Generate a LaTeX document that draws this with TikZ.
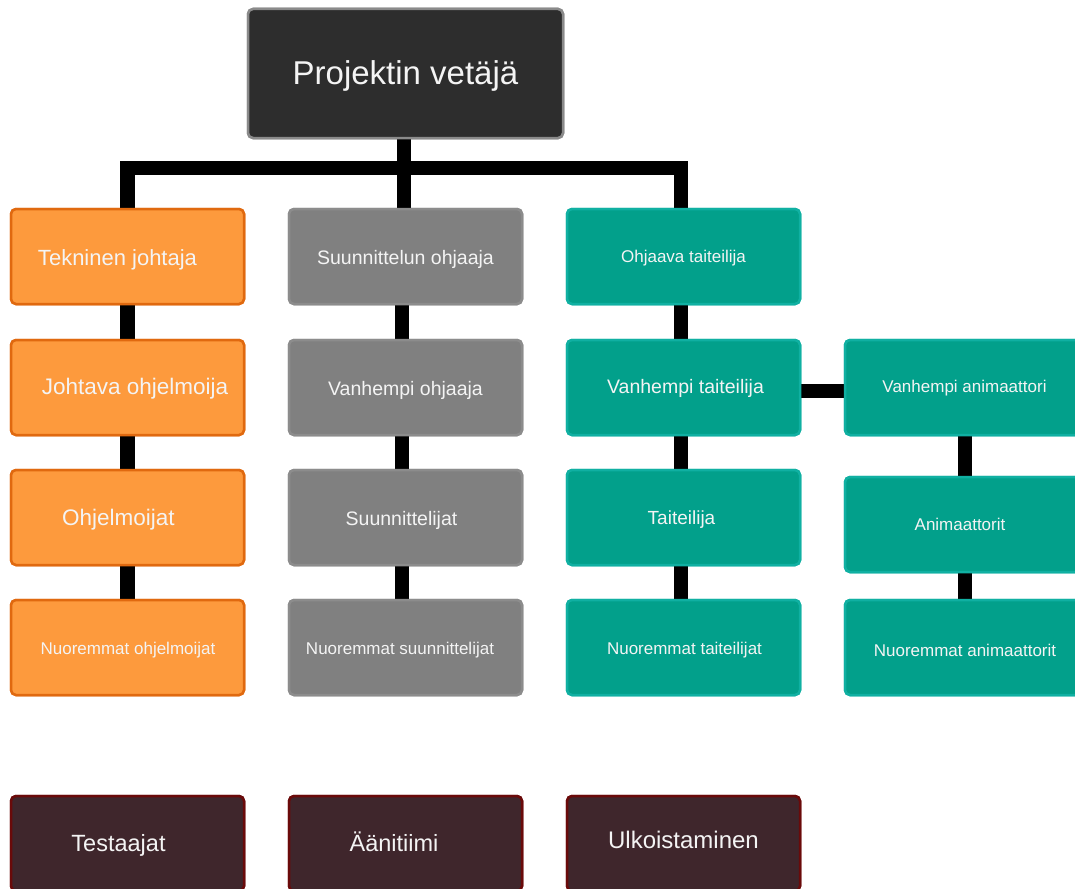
\documentclass[tikz,border=0pt]{standalone}
\usepackage{fontspec}
\setmainfont{Liberation Sans}
\definecolor{orgF}{HTML}{FD9A3D}
\definecolor{orgD}{HTML}{E0690F}
\definecolor{gryF}{HTML}{808080}
\definecolor{gryD}{HTML}{8C8C8C}
\definecolor{tlF}{HTML}{02A08B}
\definecolor{tlD}{HTML}{10B0A2}
\definecolor{dkF}{HTML}{2D2D2D}
\definecolor{dkD}{HTML}{8A8A8A}
\definecolor{mrF}{HTML}{3F262C}
\definecolor{mrD}{HTML}{6A0A0A}
\definecolor{txtc}{HTML}{F4F4F4}
\newcommand{\fs}[1]{\fontsize{#1}{#1}\selectfont}
\tikzset{
  box/.style={draw, line width=2.5pt, rounded corners=5pt, inner sep=0pt, minimum width=233pt, minimum height=95pt},
  orgbox/.style={box, fill=orgF, draw=orgD},
  grybox/.style={box, fill=gryF, draw=gryD},
  tlbox/.style={box, fill=tlF, draw=tlD},
  mrbox/.style={box, fill=mrF, draw=mrD},
  topbox/.style={box, fill=dkF, draw=dkD, minimum width=315pt, minimum height=129pt},
  txt/.style={text=txtc, inner sep=0pt, anchor=base},
  conn/.style={draw=black, line width=14.5pt, line cap=butt, line join=miter}
}
\begin{document}
\begin{tikzpicture}[x=1pt, y=-1pt]
\useasboundingbox (0,0) rectangle (1075,888);
\clip (0,0) rectangle (1075,888);
\coordinate (bus) at (404,168);
% box positions (named)
\path
  (405.5,73.5) node[topbox] (pv) {}
  (127.5,256.5) node[orgbox] (tj) {}
  (127.5,387.5) node[orgbox] (jo) {}
  (127.5,517.5) node[orgbox] (oj) {}
  (127.5,647.5) node[orgbox] (no) {}
  (405.5,256.5) node[grybox] (so) {}
  (405.5,387.5) node[grybox] (vo) {}
  (405.5,517.5) node[grybox] (su) {}
  (405.5,647.5) node[grybox] (ns) {}
  (683.5,256.5) node[tlbox] (ot) {}
  (683.5,387.5) node[tlbox] (vt) {}
  (683.5,517.5) node[tlbox] (ta) {}
  (683.5,647.5) node[tlbox] (nt) {}
  (965,387.5) node[tlbox, minimum width=240pt] (va) {}
  (965,524.5) node[tlbox, minimum width=240pt] (an) {}
  (965,647.5) node[tlbox, minimum width=240pt] (na) {}
  (127.5,843.5) node[mrbox] (te) {}
  (405.5,843.5) node[mrbox] (ae) {}
  (683.5,843.5) node[mrbox] (ul) {};
% connectors
\draw[conn] (tj.north) -- (tj.north |- bus) -- ([xshift=-2.5pt]ot.north |- bus) -- ([xshift=-2.5pt]ot.north);
\draw[conn] ([xshift=-1.5pt]pv.south) -- ([xshift=-1.5pt]so.north);
\draw[conn] (tj.south) -- (jo.north);
\draw[conn] (jo.south) -- (oj.north);
\draw[conn] (oj.south) -- (no.north);
\draw[conn] ([xshift=-3.5pt]so.south) -- ([xshift=-3.5pt]vo.north);
\draw[conn] ([xshift=-3.5pt]vo.south) -- ([xshift=-3.5pt]su.north);
\draw[conn] ([xshift=-3.5pt]su.south) -- ([xshift=-3.5pt]ns.north);
\draw[conn] ([xshift=-2.5pt]ot.south) -- ([xshift=-2.5pt]vt.north);
\draw[conn] ([xshift=-2.5pt]vt.south) -- ([xshift=-2.5pt]ta.north);
\draw[conn] ([xshift=-2.5pt]ta.south) -- ([xshift=-2.5pt]nt.north);
\draw[conn] ([yshift=-3.5pt]vt.east) -- ([yshift=-3.5pt]va.west);
\draw[conn] (va.south) -- (an.north);
\draw[conn] (an.south) -- (na.north);
% boxes drawn on top of connectors
\path
  (405.5,73.5) node[topbox] {}
  (127.5,256.5) node[orgbox] {}
  (127.5,387.5) node[orgbox] {}
  (127.5,517.5) node[orgbox] {}
  (127.5,647.5) node[orgbox] {}
  (405.5,256.5) node[grybox] {}
  (405.5,387.5) node[grybox] {}
  (405.5,517.5) node[grybox] {}
  (405.5,647.5) node[grybox] {}
  (683.5,256.5) node[tlbox] {}
  (683.5,387.5) node[tlbox] {}
  (683.5,517.5) node[tlbox] {}
  (683.5,647.5) node[tlbox] {}
  (965,387.5) node[tlbox, minimum width=240pt] {}
  (965,524.5) node[tlbox, minimum width=240pt] {}
  (965,647.5) node[tlbox, minimum width=240pt] {}
  (127.5,843.5) node[mrbox] {}
  (405.5,843.5) node[mrbox] {}
  (683.5,843.5) node[mrbox] {};
% texts (anchored at baseline)
\node[txt, font=\fs{33}] (tpv) at (405.5,85) {Projektin vetäjä};
\node[txt, font=\fs{22}] (ttj) at (117.5,265) {Tekninen johtaja};
\node[txt, font=\fs{22.5}] (tjo) at (135,394.5) {Johtava ohjelmoija};
\node[txt, font=\fs{22.5}] (toj) at (118.5,525) {Ohjelmoijat};
\node[txt, font=\fs{17}] (tno) at (128,654) {Nuoremmat ohjelmoijat};
\node[txt, font=\fs{19.5}] (tso) at (405.5,264) {Suunnittelun ohjaaja};
\node[txt, font=\fs{19.5}] (tvo) at (405.5,395) {Vanhempi ohjaaja};
\node[txt, font=\fs{19.5}] (tsu) at (401.5,525) {Suunnittelijat};
\node[txt, font=\fs{17}] (tns) at (400,654) {Nuoremmat suunnittelijat};
\node[txt, font=\fs{17}] (tot) at (683.5,262) {Ohjaava taiteilija};
\node[txt, font=\fs{19.5}] (tvt) at (685.5,393) {Vanhempi taiteilija};
\node[txt, font=\fs{19}] (tta) at (681.5,524) {Taiteilija};
\node[txt, font=\fs{17}] (tnt) at (684.5,654) {Nuoremmat taiteilijat};
\node[txt, font=\fs{17}] (tva) at (964.5,392) {Vanhempi animaattori};
\node[txt, font=\fs{17}] (tan) at (960,530) {Animaattorit};
\node[txt, font=\fs{17}] (tna) at (965,656) {Nuoremmat animaattorit};
\node[txt, font=\fs{23.5}] (tte) at (118.5,851) {Testaajat};
\node[txt, font=\fs{23.5}] (tae) at (394,851) {Äänitiimi};
\node[txt, font=\fs{24}] (tul) at (683.5,848.6) {Ulkoistaminen};
\end{tikzpicture}
\end{document}
